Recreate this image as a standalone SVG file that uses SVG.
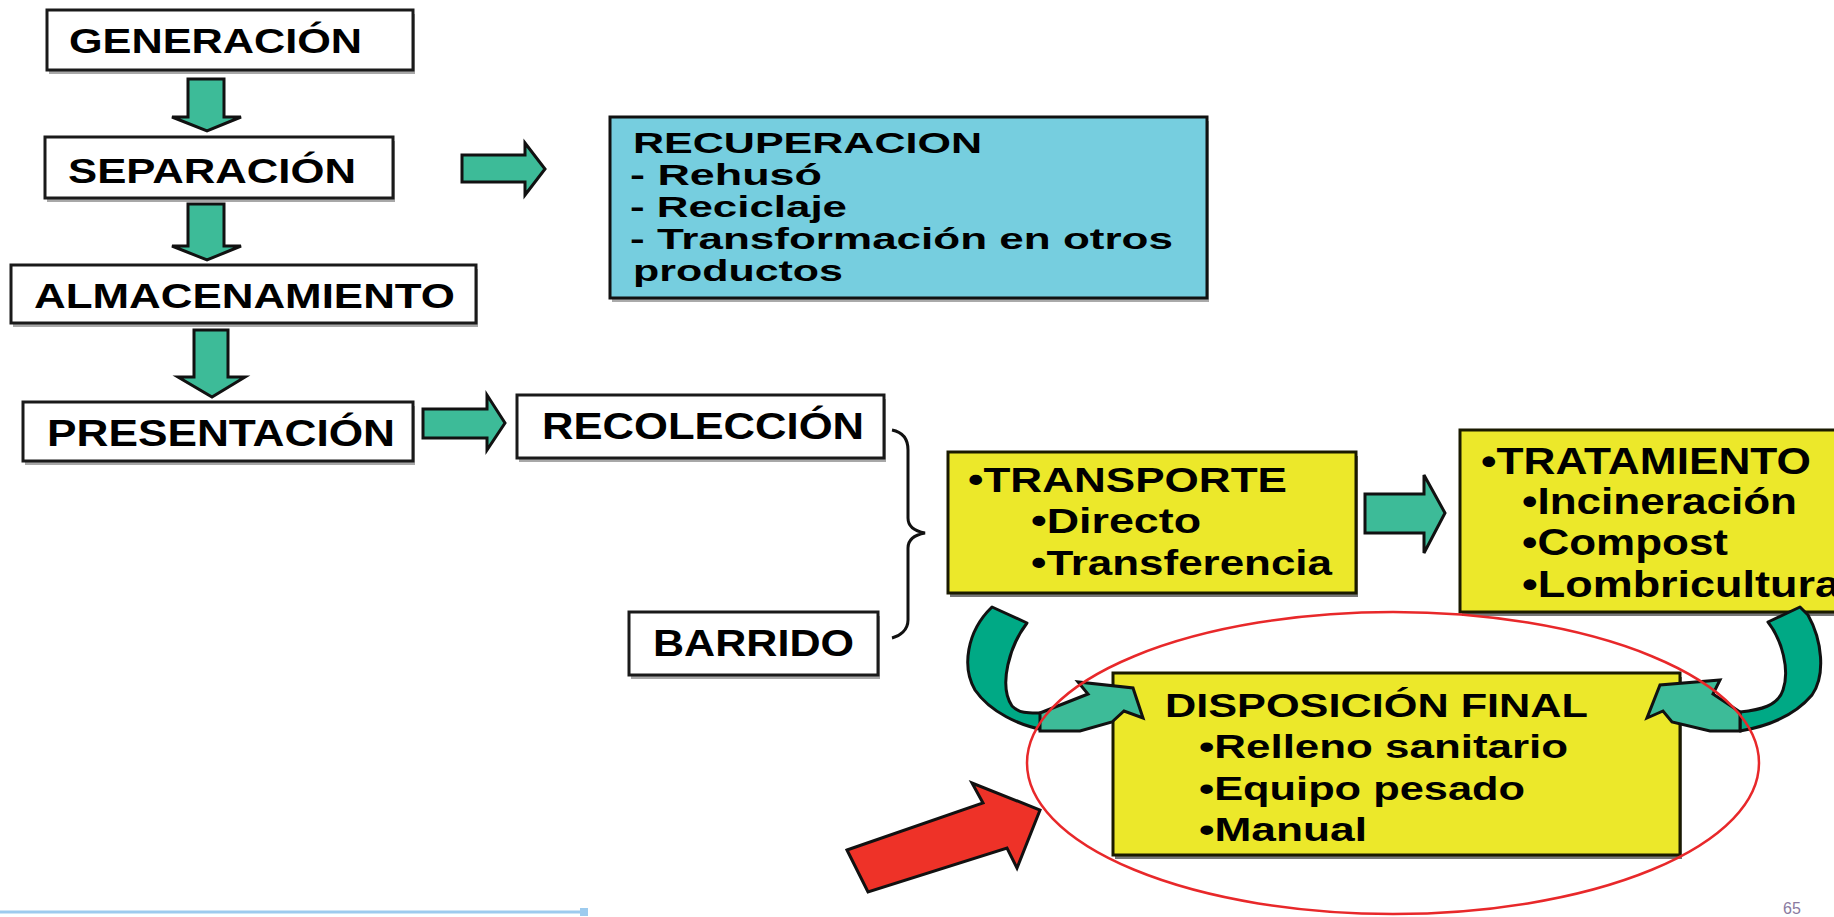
<svg xmlns="http://www.w3.org/2000/svg" width="1834" height="917" viewBox="0 0 1834 917">
<style>
.t{font-family:"Liberation Sans",Arial,sans-serif;font-weight:bold;fill:#000}
.wb{fill:#fff;stroke:#1a1a1a;stroke-width:3}
.ws{fill:#a8a8a8}
.yb{fill:#ECE82A;stroke:#1a1a00;stroke-width:3}
.ys{fill:#777}
.ga{fill:#3DBB98;stroke:#111;stroke-width:3;stroke-linejoin:miter}
.gd{fill:#00A985;stroke:#111;stroke-width:3;stroke-linejoin:round}
</style>
<rect width="1834" height="917" fill="#fff"/>

<g id="generacion">
<rect class="ws" x="49" y="14" width="366" height="60"/>
<rect class="wb" x="47" y="10" width="366" height="60"/>
<text class="t" x="69" y="53" font-size="35" textLength="293" lengthAdjust="spacingAndGlyphs">GENERACIÓN</text>
</g>
<g id="separacion">
<rect class="ws" x="47" y="141" width="348" height="61"/>
<rect class="wb" x="45" y="137" width="348" height="61"/>
<text class="t" x="68" y="183" font-size="35" textLength="288" lengthAdjust="spacingAndGlyphs">SEPARACIÓN</text>
</g>
<g id="almacenamiento">
<rect class="ws" x="13" y="269" width="465" height="58"/>
<rect class="wb" x="11" y="265" width="465" height="58"/>
<text class="t" x="34" y="308" font-size="35" textLength="421" lengthAdjust="spacingAndGlyphs">ALMACENAMIENTO</text>
</g>
<g id="presentacion">
<rect class="ws" x="25" y="406" width="390" height="59"/>
<rect class="wb" x="23" y="402" width="390" height="59"/>
<text class="t" x="47" y="446" font-size="36" textLength="348" lengthAdjust="spacingAndGlyphs">PRESENTACIÓN</text>
</g>
<g id="recoleccion">
<rect class="ws" x="519" y="399" width="367" height="63"/>
<rect class="wb" x="517" y="395" width="367" height="63"/>
<text class="t" x="542" y="439" font-size="36" textLength="322" lengthAdjust="spacingAndGlyphs">RECOLECCIÓN</text>
</g>
<g id="barrido">
<rect class="ws" x="631" y="616" width="249" height="63"/>
<rect class="wb" x="629" y="612" width="249" height="63"/>
<text class="t" x="653" y="656" font-size="36" textLength="201" lengthAdjust="spacingAndGlyphs">BARRIDO</text>
</g>
<g id="recuperacion">
<rect x="612" y="121" width="597" height="181" fill="#aaa"/>
<rect x="610" y="117" width="597" height="181" fill="#76CEDF" stroke="#111" stroke-width="3"/>
<text class="t" x="633" y="153" font-size="30" textLength="349" lengthAdjust="spacingAndGlyphs">RECUPERACION</text>
<text class="t" x="630" y="185" font-size="30" textLength="192" lengthAdjust="spacingAndGlyphs">- Rehusó</text>
<text class="t" x="630" y="217" font-size="30" textLength="217" lengthAdjust="spacingAndGlyphs">- Reciclaje</text>
<text class="t" x="630" y="249" font-size="30" textLength="543" lengthAdjust="spacingAndGlyphs">- Transformación en otros</text>
<text class="t" x="633" y="281" font-size="30" textLength="210" lengthAdjust="spacingAndGlyphs">productos</text>
</g>
<g id="transporte">
<rect class="ys" x="950" y="456" width="408" height="141"/>
<rect class="yb" x="948" y="452" width="408" height="141"/>
<text class="t" x="968" y="492" font-size="35" textLength="319" lengthAdjust="spacingAndGlyphs">•TRANSPORTE</text>
<text class="t" x="1031" y="533" font-size="35" textLength="170" lengthAdjust="spacingAndGlyphs">•Directo</text>
<text class="t" x="1031" y="575" font-size="35" textLength="301" lengthAdjust="spacingAndGlyphs">•Transferencia</text>
</g>
<g id="tratamiento">
<rect class="ys" x="1462" y="434" width="380" height="182"/>
<rect class="yb" x="1460" y="430" width="380" height="182"/>
<text class="t" x="1481" y="474" font-size="36" textLength="330" lengthAdjust="spacingAndGlyphs">•TRATAMIENTO</text>
<text class="t" x="1522" y="514" font-size="36" textLength="275" lengthAdjust="spacingAndGlyphs">•Incineración</text>
<text class="t" x="1522" y="555" font-size="36" textLength="206" lengthAdjust="spacingAndGlyphs">•Compost</text>
<text class="t" x="1522" y="597" font-size="36" textLength="318" lengthAdjust="spacingAndGlyphs">•Lombricultura</text>
</g>
<g id="disposicion">
<rect class="ys" x="1115" y="677" width="567" height="182"/>
<rect class="yb" x="1113" y="673" width="567" height="182"/>
<text class="t" x="1165" y="717" font-size="34" textLength="423" lengthAdjust="spacingAndGlyphs">DISPOSICIÓN FINAL</text>
<text class="t" x="1199" y="758" font-size="34" textLength="369" lengthAdjust="spacingAndGlyphs">•Relleno sanitario</text>
<text class="t" x="1199" y="800" font-size="34" textLength="326" lengthAdjust="spacingAndGlyphs">•Equipo pesado</text>
<text class="t" x="1199" y="841" font-size="34" textLength="168" lengthAdjust="spacingAndGlyphs">•Manual</text>
</g>

<g id="connectors">
<path class="ga" d="M188,79 L224,79 L224,117 L241,117 L207,131 L172,117 L188,117 Z"/>
<path class="ga" d="M188,204 L224,204 L224,246 L241,246 L207,260 L172,246 L188,246 Z"/>
<path class="ga" d="M194,330 L228,330 L228,377 L245,377 L212,397 L178,377 L194,377 Z"/>
<path class="ga" d="M462,155 L525,155 L525,143 L545,169 L525,195 L525,182 L462,182 Z"/>
<path class="ga" d="M423,409 L487,409 L487,395 L505,423 L487,450 L487,438 L423,438 Z"/>
<path class="ga" d="M1365,494 L1424,494 L1424,475 L1445,513 L1424,553 L1424,533 L1365,533 Z"/>
<path d="M892,430 C902,432 908,438 908,450 L908,518 C908,526 914,531 925,533 C914,535 908,540 908,548 L908,620 C908,630 900,636 892,638" fill="none" stroke="#111" stroke-width="3"/>
<path class="gd" d="M992,607 L1027,623 C1010,645 998,685 1012,706 C1020,714 1030,713 1042,713 L1045,730 C1020,726 990,712 975,690 C962,668 966,632 992,607 Z"/>
<path class="ga" d="M1040,713 L1088,694 L1078,682 L1133,688 L1143,718 L1124,711 L1112,722 L1080,731 L1040,731 Z"/>
<path class="gd" d="M1768,622 L1800,607 L1808,615 C1822,640 1826,675 1812,695 C1795,715 1770,726 1740,731 L1740,712 C1760,710 1778,706 1783,690 C1790,670 1782,640 1768,622 Z"/>
<path class="ga" d="M1740,712 L1713,694 L1720,680 L1660,685 L1647,718 L1663,711 L1672,722 L1710,731 L1740,731 Z"/>
</g>

<g id="highlight">
<ellipse cx="1393" cy="763" rx="366" ry="151" fill="none" stroke="#E8282A" stroke-width="2.5"/>
<path d="M847,850 L983,803 L972,783 L1040,810 L1017,868 L1007,848 L868,892 Z" fill="#EE3228" stroke="#111" stroke-width="3" stroke-linejoin="miter"/>
</g>

<g id="footer">
<line x1="0" y1="912" x2="585" y2="912" stroke="#9DCBEE" stroke-width="3"/>
<rect x="580" y="908" width="8" height="8" fill="#9DCBEE"/>
<text x="1783" y="914" font-family="Liberation Sans,Arial,sans-serif" font-size="16" fill="#8a7aa0">65</text>
</g>
</svg>
